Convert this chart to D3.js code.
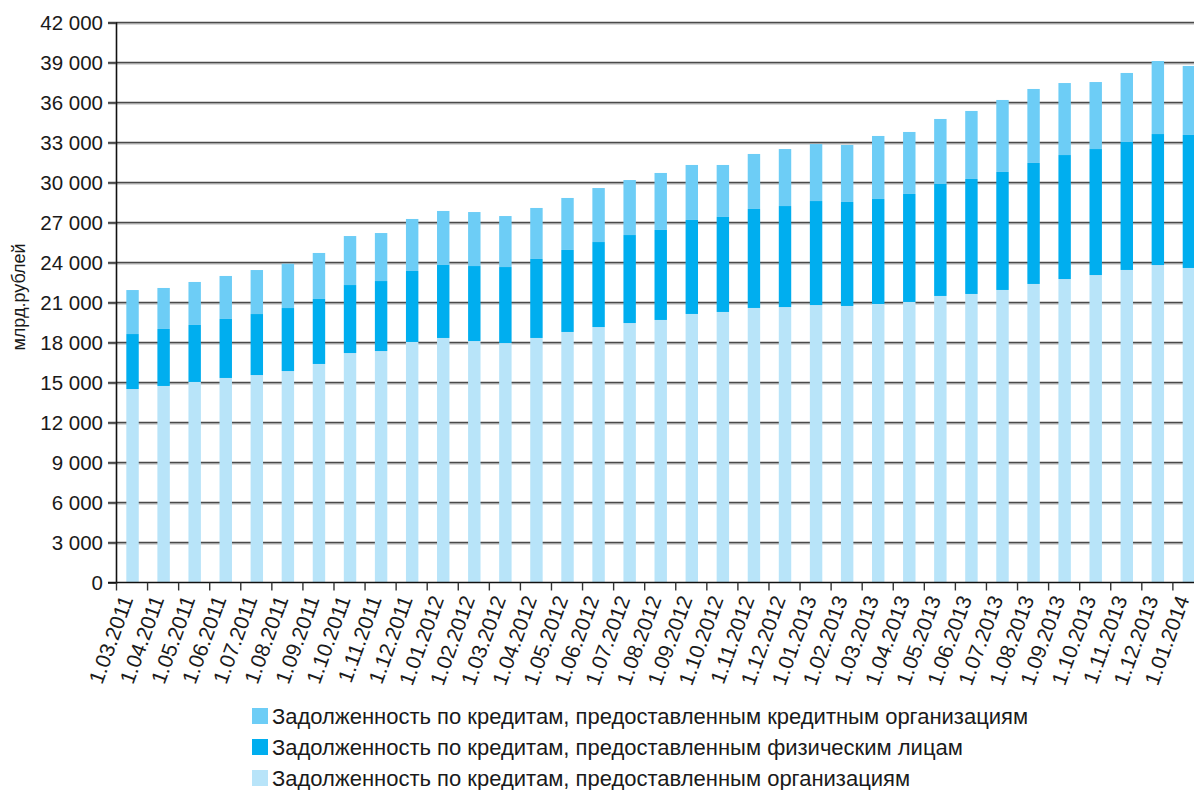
<!DOCTYPE html>
<html>
<head>
<meta charset="utf-8">
<script src="https://cdn.jsdelivr.net/npm/d3@7"></script>
<style>
  html, body { margin: 0; padding: 0; background: #fff; }
  svg { display: block; }
  text { font-family: "Liberation Sans", Arial, Helvetica, sans-serif; fill: #1a1a1a; }
</style>
</head>
<body>
<svg id="chart" width="1194" height="790"></svg>
<script>
const categories = ["1.03.2011","1.04.2011","1.05.2011","1.06.2011","1.07.2011","1.08.2011","1.09.2011","1.10.2011","1.11.2011","1.12.2011",
  "1.01.2012","1.02.2012","1.03.2012","1.04.2012","1.05.2012","1.06.2012","1.07.2012","1.08.2012","1.09.2012","1.10.2012","1.11.2012","1.12.2012",
  "1.01.2013","1.02.2013","1.03.2013","1.04.2013","1.05.2013","1.06.2013","1.07.2013","1.08.2013","1.09.2013","1.10.2013","1.11.2013","1.12.2013",
  "1.01.2014"];
// Задолженность по кредитам, предоставленным организациям
const orgLoans = [14510,14740,15040,15340,15560,15860,16390,17210,17360,18040,
  18340,18110,17960,18340,18790,19160,19460,19690,20140,20290,20590,20660,
  20810,20740,20890,21040,21490,21640,21940,22390,22760,23060,23440,23810,
  23590];
// Задолженность по кредитам, предоставленным физическим лицам
const personLoans = [4125,4275,4275,4425,4575,4725,4875,5100,5250,5325,
  5475,5625,5700,5925,6150,6375,6600,6750,7050,7125,7425,7575,
  7800,7800,7875,8100,8400,8625,8850,9075,9300,9450,9600,9825,
  9975];
// Задолженность по кредитам, предоставленным кредитным организациям
const bankLoans = [3300,3075,3225,3225,3300,3325,3450,3675,3600,3900,
  4050,4050,3825,3825,3900,4050,4125,4275,4125,3900,4125,4275,
  4275,4275,4725,4650,4875,5100,5400,5550,5400,5025,5175,5475,
  5175];
const yTicks = [0,3000,6000,9000,12000,15000,18000,21000,24000,27000,30000,33000,36000,39000,42000];
const seriesNames = [
  "Задолженность по кредитам, предоставленным кредитным организациям",
  "Задолженность по кредитам, предоставленным физическим лицам",
  "Задолженность по кредитам, предоставленным организациям"
];
const yTitle = "млрд.рублей";

const colors = { org: "#b8e4f9", person: "#00aeef", bank: "#6dcdf6" };

const svg = d3.select("#chart");
const plotLeft = 116, plotTop = 22.5, plotBottom = 582.5;
const step = 31.07;
const plotRight = plotLeft + step * categories.length;

const x = d3.scaleBand().domain(categories).range([plotLeft + 1, plotRight + 1]).paddingInner(0.6).paddingOuter(0.3);
const y = d3.scaleLinear().domain([0, 42000]).range([plotBottom, plotTop]);

const fmt = v => d3.format(",")(v).replace(/,/g, " ");

// gridlines
const grid = svg.append("g");
yTicks.filter(t => t > 0).forEach(t => {
  grid.append("line").attr("x1", plotLeft - 8).attr("x2", 1194).attr("y1", y(t) + 1.4).attr("y2", y(t) + 1.4)
    .attr("stroke", "#b3b3b3").attr("stroke-width", 1.2);
  grid.append("line").attr("x1", plotLeft - 8).attr("x2", 1194).attr("y1", y(t)).attr("y2", y(t))
    .attr("stroke", "#4a4a4a").attr("stroke-width", 1.6);
});

// stacked bars
const data = categories.map((c, i) => ({ c, org: orgLoans[i], person: personLoans[i], bank: bankLoans[i] }));
const stack = d3.stack().keys(["org", "person", "bank"])(data);
svg.append("g").selectAll("g").data(stack).join("g")
  .attr("fill", d => colors[d.key])
  .selectAll("rect").data(d => d).join("rect")
  .attr("x", d => x(d.data.c))
  .attr("width", x.bandwidth())
  .attr("y", d => y(d[1]))
  .attr("height", d => y(d[0]) - y(d[1]));

// y axis
const yAxis = d3.axisLeft(y).tickValues(yTicks).tickFormat(fmt).tickSize(8).tickPadding(5);
const gy = svg.append("g").attr("transform", `translate(${plotLeft},0)`).call(yAxis);
gy.select(".domain").attr("stroke", "#111").attr("stroke-width", 1.6);
gy.selectAll(".tick line").attr("stroke", "#4a4a4a").attr("stroke-width", 1.6);
gy.selectAll(".tick text").style("font-size", "20.5px").attr("fill", "#1a1a1a").attr("dy", "0.35em");

// x axis baseline and ticks at band boundaries
svg.append("line").attr("x1", plotLeft - 8).attr("x2", 1194).attr("y1", plotBottom).attr("y2", plotBottom)
  .attr("stroke", "#111").attr("stroke-width", 1.6);
const xt = svg.append("g");
categories.forEach(c => {
  const bx = x(c) - x.step() * x.paddingOuter() - 0.5;
  xt.append("line").attr("x1", bx).attr("x2", bx).attr("y1", plotBottom).attr("y2", plotBottom + 8)
    .attr("stroke", "#333").attr("stroke-width", 1.4);
});
xt.selectAll("text.xl").data(categories).join("text")
  .attr("class", "xl")
  .attr("transform", d => `translate(${x(d) + x.bandwidth() / 2 - 6},${plotBottom + 14}) rotate(-70)`)
  .attr("text-anchor", "end")
  .attr("dy", "0.35em")
  .style("font-size", "21px")
  .text(d => d);

// y title
svg.append("text")
  .attr("transform", `translate(25,297) rotate(-90)`)
  .attr("text-anchor", "middle")
  .style("font-size", "18px")
  .text(yTitle);

// legend
const legendKeys = ["bank", "person", "org"];
const lg = svg.append("g").attr("class", "legend");
seriesNames.forEach((name, i) => {
  const cy = 716 + i * 31;
  lg.append("rect").attr("x", 252).attr("y", cy - 8).attr("width", 16).attr("height", 16).attr("fill", colors[legendKeys[i]]);
  lg.append("text").attr("x", 272).attr("y", cy).attr("dy", "0.35em").style("font-size", "22px").text(name);
});
</script>
</body>
</html>
